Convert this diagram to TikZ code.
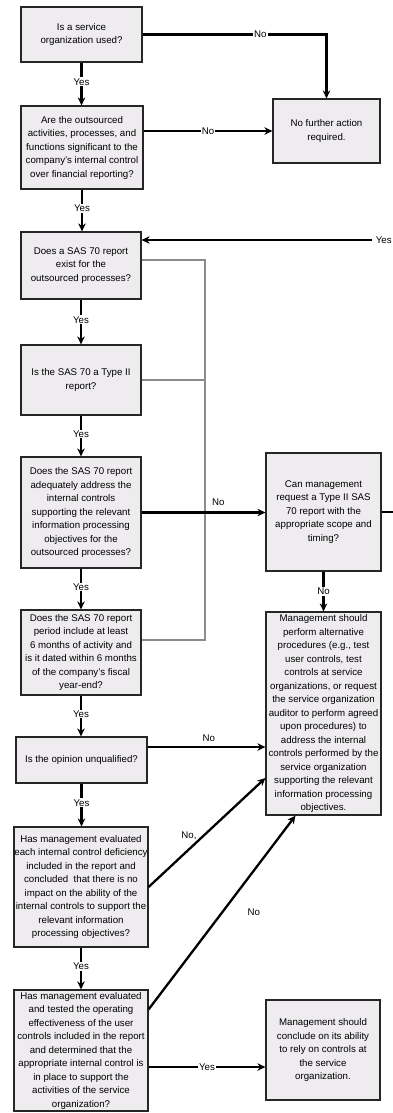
\documentclass[tikz,border=0pt]{standalone}
\usepackage{fontspec}
\setmainfont{Liberation Sans}
\usetikzlibrary{arrows, arrows.meta}
\definecolor{boxfill}{RGB}{239,236,240}

\begin{document}
\begin{tikzpicture}[
        > = {Stealth[length = 8pt, width = 7.5pt]}, % arrow head style
        x = 1pt, y = -1pt, % picture units, y runs downwards
        line width = 2.3pt, % connector style
        font = \fontsize{9.7}{13.5}\selectfont
    ]

    \tikzstyle{qbox}=[draw = black!85, fill = boxfill, line width = 1.2pt,
    align = center, inner sep = 0pt]
    \tikzstyle{lbl}=[fill = white, inner sep = 1pt]
    \tikzstyle{gline}=[draw = black!45, line width = 1.3pt]

    \useasboundingbox (0,0) rectangle (392,1113);

    % left column
    \node (q1) [qbox, minimum width = 121pt, minimum height = 55pt] at (81.5,34.5)
    {Is a service\\organization used?};
    \node (q2) [qbox, minimum width = 122pt, minimum height = 83pt] at (82,147.5)
    {Are the outsourced\\activities, processes, and\\functions significant to the\\company's internal control\\over financial reporting?};
    \node (q3) [qbox, minimum width = 120pt, minimum height = 67pt] at (81,265.5)
    {Does a SAS 70 report\\exist for the\\outsourced processes?};
    \node (q4) [qbox, minimum width = 120pt, minimum height = 70pt] at (81,380)
    {Is the SAS 70 a Type II\\report?};
    \node (q5) [qbox, minimum width = 120pt, minimum height = 111pt] at (81,512.5)
    {Does the SAS 70 report\\adequately address the\\internal controls\\supporting the relevant\\information processing\\objectives for the\\outsourced processes?};
    \node (q6) [qbox, minimum width = 120pt, minimum height = 85pt] at (81,652.5)
    {Does the SAS 70 report\\period include at least\\6 months of activity and\\is it dated within 6 months\\of the company's fiscal\\year-end?};
    \node (q7) [qbox, minimum width = 131pt, minimum height = 46pt] at (81.5,760)
    {Is the opinion unqualified?};
    \node (q8) [qbox, minimum width = 134pt, minimum height = 120pt] at (81,887)
    {Has management evaluated\\each internal control deficiency\\included in the report and\\concluded\ \ that there is no\\impact on the ability of the\\internal controls to support the\\relevant information\\processing objectives?};
    \node (q9) [qbox, minimum width = 134pt, minimum height = 121pt] at (81,1050.5)
    {Has management evaluated\\and tested the operating\\effectiveness of the user\\controls included in the report\\and determined that the\\appropriate internal control is\\in place to support the\\activities of the service\\organization?};

    % right column
    \node (endA) [qbox, minimum width = 107pt, minimum height = 64pt] at (326.5,131)
    {No further action\\required.};
    \node (can) [qbox, minimum width = 115pt, minimum height = 118pt] at (323.5,512)
    {Can management\\request a Type II SAS\\70 report with the\\appropriate scope and\\timing?};
    \node (mgmt) [qbox, minimum width = 115pt, minimum height = 203pt] at (323.5,713.5)
    {Management should\\perform alternative\\procedures (e.g., test\\user controls, test\\controls at service\\organizations, or request\\the service organization\\auditor to perform agreed\\upon procedures) to\\address the internal\\controls performed by the\\service organization\\supporting the relevant\\information processing\\objectives.};
    \node (endB) [qbox, minimum width = 114pt, minimum height = 100pt] at (323,1050)
    {Management should\\conclude on its ability\\to rely on controls at\\the service\\organization.};

    \coordinate (yesR) at (400,240);
    \coordinate (gtop) at (205,260);
    \coordinate (gbot) at (205,640);
    \coordinate (rowNo7) at (0,747);
    \coordinate (rowNo8) at (0,778);
    \coordinate (rowYes9) at (0,1067);

    % yes chain
    \path[->] (q1.south) edge node[lbl, pos = 0.45] {Yes} (q1.south |- q2.north);
    \path[->] (q2.south) edge node[lbl, pos = 0.45] {Yes} (q2.south |- q3.north);
    \path[->] (q3.south) edge node[lbl, pos = 0.45] {Yes} (q3.south |- q4.north);
    \path[->] (q4.south) edge node[lbl, pos = 0.45] {Yes} (q4.south |- q5.north);
    \path[->] (q5.south) edge node[lbl, pos = 0.45] {Yes} (q5.south |- q6.north);
    \path[->] (q6.south) edge node[lbl, pos = 0.45] {Yes} (q6.south |- q7.north);
    \path[->] (q7.south) edge node[lbl, pos = 0.45] {Yes} (q7.south |- q8.north);
    \path[->] (q8.south) edge node[lbl, pos = 0.45] {Yes} (q8.south |- q9.north);

    % no branches
    \draw[->] (q1.east) -| node[lbl, pos = 0.32] {No} (endA.north);
    \path[->] (q2.east |- endA.west) edge node[lbl] {No} (endA.west);
    \draw[gline] (q3.east |- gtop) -- (gtop) -- (gbot) -- (q6.east |- gbot);
    \draw[gline] (q4.east) -- (q4.east -| gtop);
    \path[->] (q5.east) edge node[above = 2pt, pos = 0.62] {No} (q5.east -| can.west);
    \path[->] (can.south) edge node[lbl] {No} (mgmt.north);
    \draw[->] (can.east) -| (yesR) -- node[lbl, inner xsep = 4pt, pos = 0.063] {Yes} (q3.east |- yesR);
    \path[->] (q7.east |- rowNo7) edge node[above = 1pt, pos = 0.52] {No} (mgmt.west |- rowNo7);
    \draw[->] (q8.east) -- node[pos = 0.42, anchor = south east, inner sep = 0pt] {No,} (mgmt.west |- rowNo8);
    \draw[->] ([yshift = -20pt]q9.north east) -- node[pos = 0.5, right = 21pt] {No} ([xshift = -28pt]mgmt.south);
    \path[->] (q9.east |- rowYes9) edge node[lbl] {Yes} (endB.west |- rowYes9);

\end{tikzpicture}
\end{document}
